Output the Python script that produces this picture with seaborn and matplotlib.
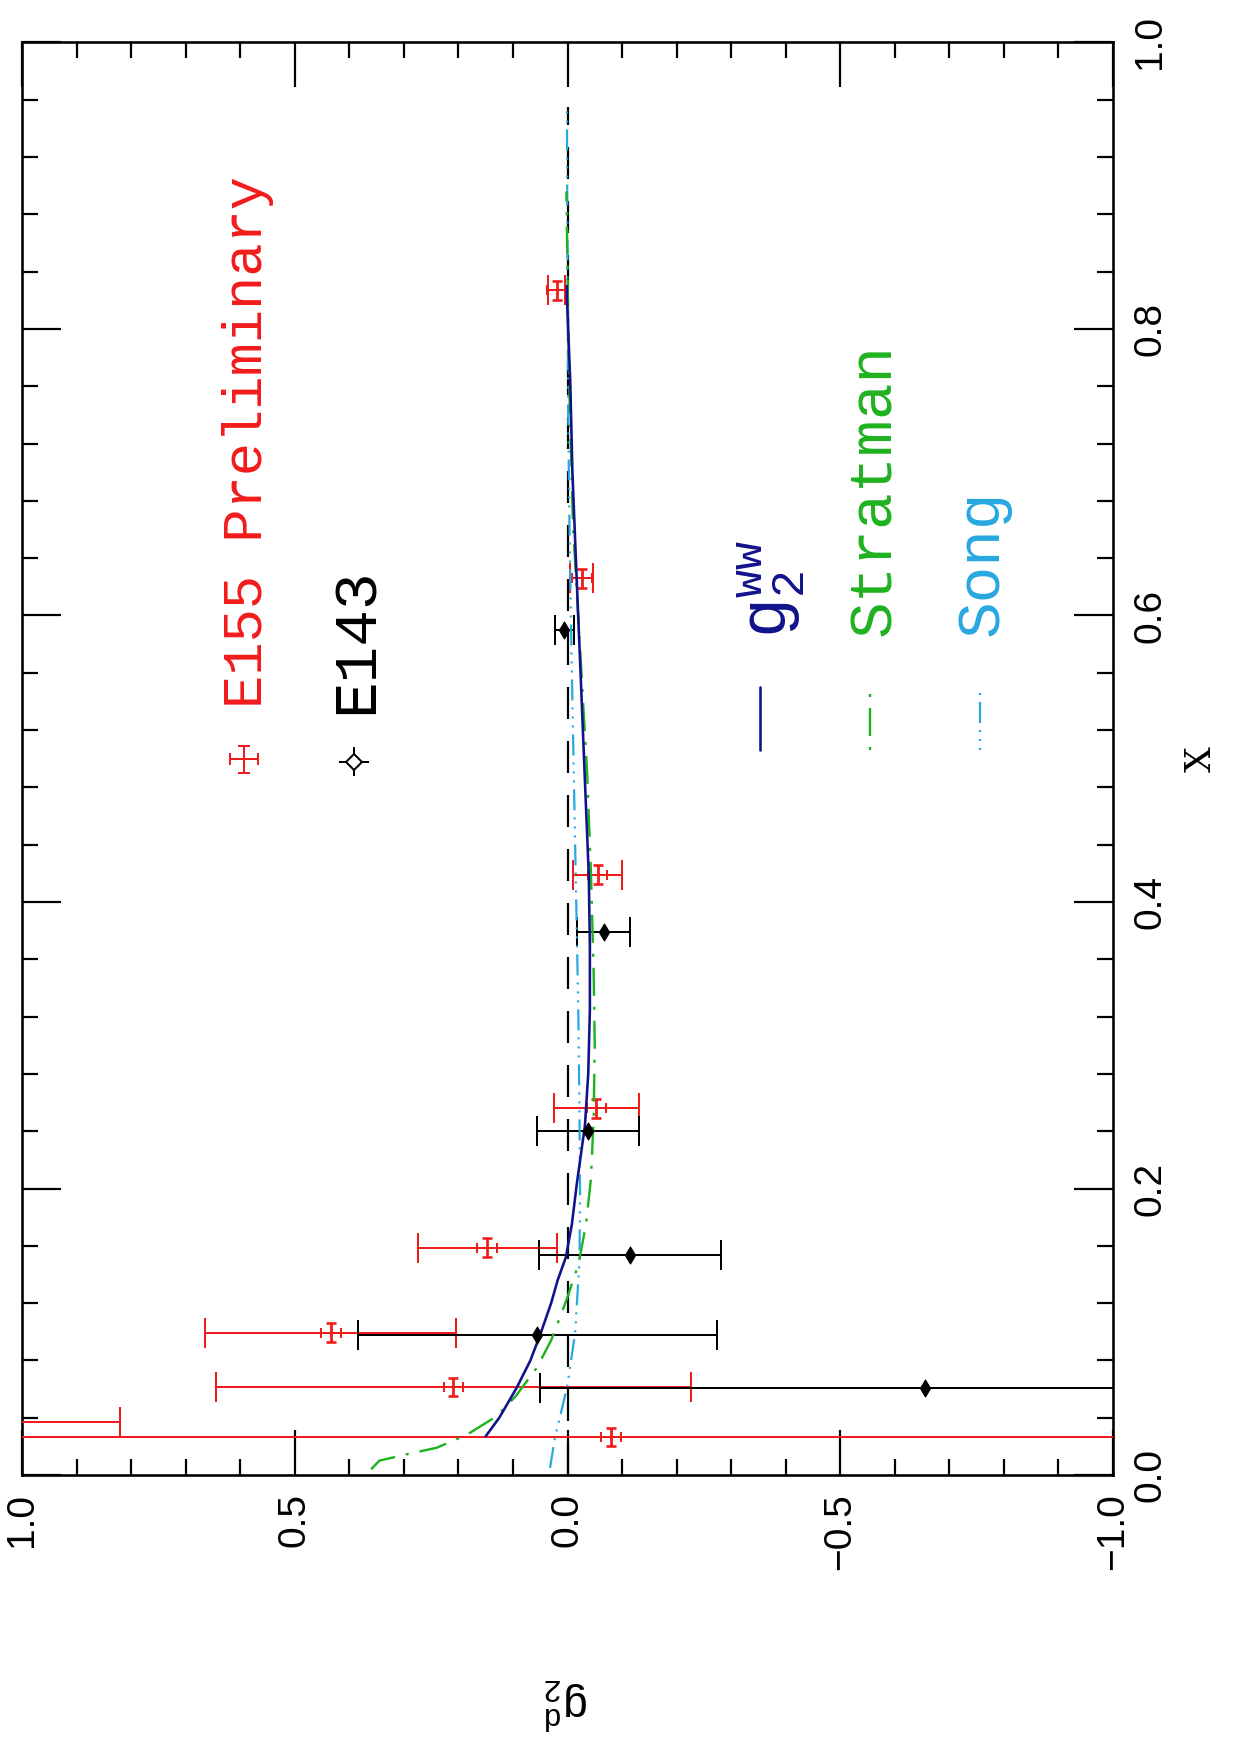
import matplotlib
matplotlib.use("Agg")
import matplotlib.pyplot as plt
from matplotlib.ticker import FixedLocator, MultipleLocator, FuncFormatter
import seaborn as sns

# ---------------------------------------------------------------- data
# E155 preliminary deuteron g2: x, value, statistical and systematic errors,
# half-width of the x bin.  The first point sits above the plotted range.
e155_x = [0.037, 0.0265, 0.0615, 0.0993, 0.1586, 0.256, 0.419, 0.626, 0.827]
e155_g2 = [1.40, -0.080, 0.209, 0.434, 0.147, -0.053, -0.055, -0.026, 0.020]
e155_stat = [0.58, 1.20, 0.435, 0.230, 0.127, 0.078, 0.045, 0.021, 0.016]
e155_syst = [0.018, 0.018, 0.018, 0.018, 0.018, 0.018, 0.018, 0.018, 0.018]
e155_xbin = [0.0065, 0.0065, 0.0065, 0.0065, 0.0065, 0.0065, 0.0065, 0.0065, 0.0065]

# E143 deuteron g2
e143_x = [0.0607, 0.0977, 0.1535, 0.240, 0.379, 0.590]
e143_g2 = [-0.655, 0.055, -0.114, -0.038, -0.066, 0.006]
e143_err = [0.706, 0.329, 0.167, 0.093, 0.049, 0.017]

# Wandzura-Wilczek g2
ww_x = [0.027, 0.040, 0.061, 0.080, 0.098, 0.120, 0.136, 0.152, 0.175, 0.203,
        0.244, 0.280, 0.324, 0.370, 0.419, 0.484, 0.550, 0.624, 0.700, 0.764,
        0.821, 0.830]
ww_g2 = [0.150, 0.125, 0.093, 0.068, 0.050, 0.030, 0.018, 0.003, -0.008, -0.017,
         -0.032, -0.038, -0.041, -0.041, -0.039, -0.032, -0.025, -0.017, -0.009,
         -0.005, 0.001, 0.001]

# Stratmann model
strat_x = [0.004, 0.010, 0.014, 0.019, 0.028, 0.041, 0.055, 0.075, 0.094, 0.122,
           0.147, 0.175, 0.207, 0.250, 0.300, 0.350, 0.420, 0.490, 0.570, 0.664,
           0.764, 0.896]
strat_g2 = [0.360, 0.345, 0.300, 0.240, 0.185, 0.130, 0.095, 0.056, 0.030, 0.002,
            -0.020, -0.034, -0.043, -0.048, -0.050, -0.048, -0.043, -0.036, -0.024,
            -0.010, -0.003, 0.002]

# Song model
song_x = [0.005, 0.026, 0.061, 0.099, 0.150, 0.200, 0.250, 0.320, 0.400, 0.480,
          0.560, 0.650, 0.750, 0.850, 0.955]
song_g2 = [0.032, 0.023, 0.001, -0.014, -0.022, -0.023, -0.022, -0.020, -0.016,
           -0.012, -0.008, -0.004, -0.001, 0.000, 0.001]

# zero reference line (range in x)
zero_x = [0.0, 0.955]
zero_g2 = [0.0, 0.0]

# axis ticks
g2_major = [1.0, 0.5, 0.0, -0.5, -1.0]
x_major = [0.0, 0.2, 0.4, 0.6, 0.8, 1.0]

labels = ["E155 Preliminary", "E143", r"$\mathrm{g}_{\mathrm{2}}^{\mathrm{ww}}$",
          "Stratman", "Song"]

# ---------------------------------------------------------------- style
RED = "#f21b1b"
BLUE = "#12128c"
GREEN = "#1fb21f"
CYAN = "#27a8e0"
PX = 0.72  # points per pixel at 100 dpi

sns.set_theme(style="white")
plt.rcParams["font.family"] = ["Liberation Sans", "DejaVu Sans"]
plt.rcParams["mathtext.fontset"] = "custom"
plt.rcParams["mathtext.rm"] = "Liberation Mono"
plt.rcParams["mathtext.it"] = "Liberation Mono"
plt.rcParams["mathtext.bf"] = "Liberation Mono:bold"
plt.rcParams["lines.scale_dashes"] = False

fig = plt.figure(figsize=(12.33, 17.54), dpi=100)
fig.patch.set_facecolor("white")
ax = fig.add_axes([22 / 1233, 279 / 1754, 1091 / 1233, 1432.5 / 1754])
ax.set_facecolor("white")

# horizontal axis is g2 (decreasing to the right), vertical axis is x
ax.set_xlim(1.0, -1.0)
ax.set_ylim(0.0, 1.0)

# ---------------------------------------------------------------- data marks
eb = dict(fmt="none", elinewidth=2.0 * PX, capthick=2.0 * PX)
ax.errorbar(e155_g2, e155_x, xerr=e155_stat, ecolor=RED, capsize=10.8, zorder=3, **eb)
ax.errorbar(e155_g2, e155_x, xerr=e155_syst, ecolor=RED, capsize=3.8, zorder=3, **eb)
ax.errorbar(e155_g2, e155_x, yerr=e155_xbin, ecolor=RED, capsize=3.4, zorder=3,
            fmt="none", elinewidth=2.8 * PX, capthick=2.6 * PX)

ax.errorbar(e143_g2, e143_x, xerr=e143_err, ecolor="black", capsize=10.8, zorder=3, **eb)

# reference line and model curves
sns.lineplot(x=zero_g2, y=zero_x, sort=False, estimator=None, orient="y",
             color="black", lw=2.2 * PX, ax=ax, zorder=2)
ax.lines[-1].set_dashes((32 * PX, 22 * PX))

song_dash = (21 * PX, 7 * PX, 2 * PX, 7 * PX, 2 * PX, 7 * PX, 2 * PX, 7 * PX)
sns.lineplot(x=song_g2, y=song_x, sort=False, estimator=None, orient="y",
             color=CYAN, lw=2.2 * PX, ax=ax, zorder=4)
ax.lines[-1].set_dashes(song_dash)

strat_dash = (28 * PX, 11 * PX, 3 * PX, 11 * PX)
sns.lineplot(x=strat_g2, y=strat_x, sort=False, estimator=None, orient="y",
             color=GREEN, lw=2.4 * PX, ax=ax, zorder=4)
ax.lines[-1].set_dashes(strat_dash)

sns.lineplot(x=ww_g2, y=ww_x, sort=False, estimator=None, orient="y",
             color=BLUE, lw=2.6 * PX, ax=ax, zorder=5)

sns.scatterplot(x=e143_g2, y=e143_x, marker="d", s=75, color="black",
                edgecolor="black", linewidth=0.8, ax=ax, zorder=6, legend=False)

# ---------------------------------------------------------------- legend
# E155 symbol
ax.errorbar([0.593], [0.4997], xerr=[0.026], ecolor=RED, capsize=4.5, zorder=6, **eb)
ax.errorbar([0.593], [0.4997], yerr=[0.0095], ecolor=RED, capsize=4.0, zorder=6, **eb)
# E143 symbol
ax.errorbar([0.391], [0.498], xerr=[0.0275], yerr=[0.0101], ecolor="black",
            capsize=0, zorder=6, **eb)
ax.plot([0.391], [0.498], marker="D", ms=8, mfc="white", mec="black",
        mew=2.0 * PX, zorder=7)

legend_text = dict(rotation=90, rotation_mode="anchor", ha="left", va="baseline",
                   transform=ax.transAxes, family="Liberation Mono")
ax.text(0.220, 0.5355, labels[0], color=RED, size=40, **legend_text)
ax.text(0.3217, 0.5310, labels[1], color="black", size=44, **legend_text)
ax.text(0.7010, 0.5840, labels[2], color=BLUE, size=48, **legend_text)
ax.text(0.7956, 0.5860, labels[3], color=GREEN, size=44, **legend_text)
ax.text(0.8946, 0.5860, labels[4], color=CYAN, size=44, **legend_text)

sample_y = [0.5061, 0.5501]
ax.plot([0.6764, 0.6764], sample_y, color=BLUE, lw=2.6 * PX, transform=ax.transAxes)
ax.plot([0.7773, 0.7773], sample_y, color=GREEN, lw=2.4 * PX,
        transform=ax.transAxes, linestyle=(39 * PX, strat_dash))
ax.plot([0.8780, 0.8780], sample_y, color=CYAN, lw=2.2 * PX,
        transform=ax.transAxes, linestyle=(28 * PX, song_dash))

# ---------------------------------------------------------------- axes
for side in ["left", "right", "top", "bottom"]:
    ax.spines[side].set_color("black")
    ax.spines[side].set_linewidth(2.6 * PX)
    ax.spines[side].set_visible(True)

ax.xaxis.set_major_locator(FixedLocator(g2_major))
ax.xaxis.set_minor_locator(MultipleLocator(0.1))
ax.yaxis.set_major_locator(FixedLocator(x_major))
ax.yaxis.set_minor_locator(MultipleLocator(0.04))


def fmt(v, _pos):
    if abs(v) < 1e-9:
        v = 0.0
    return f"{v:.1f}".replace("-", "\u2212")


ax.xaxis.set_major_formatter(FuncFormatter(fmt))
ax.yaxis.set_major_formatter(FuncFormatter(fmt))

ax.tick_params(which="both", direction="in", top=True, bottom=True, left=True,
               right=True, color="black", width=2.2 * PX)
ax.tick_params(axis="x", which="major", length=45 * PX)
ax.tick_params(axis="x", which="minor", length=16 * PX)
ax.tick_params(axis="y", which="major", length=39 * PX)
ax.tick_params(axis="y", which="minor", length=16 * PX)
ax.tick_params(axis="x", which="major", labelrotation=90, pad=13, labelsize=28,
               labelcolor="black")
ax.tick_params(axis="y", which="major", labelleft=False, labelright=True,
               labelrotation=90, pad=14, labelsize=28, labelcolor="black")
plt.setp(ax.get_yticklabels(), va="center")

# axis titles
ax.text(0.4995, -0.1595, r"$\mathrm{g}_{2}^{d}$", rotation=180, ha="center",
        va="center", size=32, color="black", transform=ax.transAxes)
ax.text(1.0806, 0.4998, "X", rotation=90, ha="center", va="center", size=26,
        family="DejaVu Serif", color="black", transform=ax.transAxes)

fig.savefig("out.png", dpi=100, facecolor="white")
